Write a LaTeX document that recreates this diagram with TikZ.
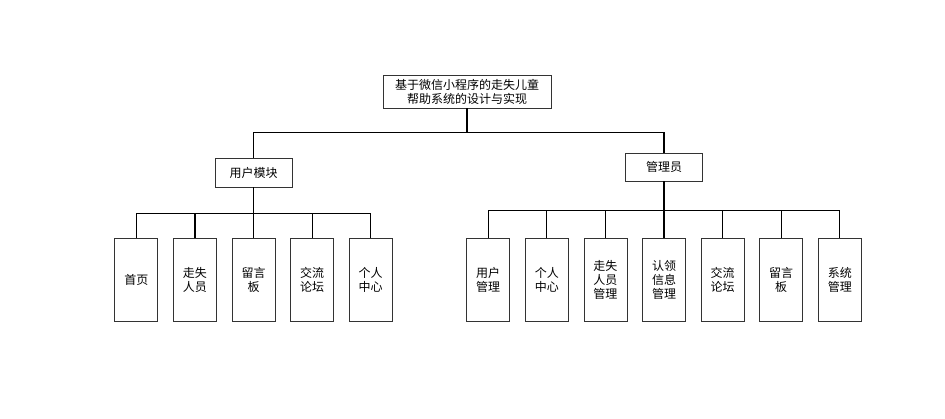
\documentclass[tikz,border=0pt]{standalone}
\usepackage{fontspec}
\newfontfamily\cjk{Noto Sans CJK SC}
\usepackage{tikz}

\newcommand\busdrop{26pt}
\tikzset{
	bus drop/.store in=\busdrop,
	box/.style={draw=black!80, line width=0.8pt, align=center, inner sep=2pt},
	titlebox/.style={box, minimum width=168pt, minimum height=33pt},
	modbox/.style={box, minimum width=77pt, minimum height=29pt},
	leafbox/.style={box, minimum width=43pt, minimum height=83pt}
}

\begin{document}
\begin{tikzpicture}[x=1pt,y=1pt,
nodes={font=\cjk\fontsize{12pt}{14pt}\selectfont},
edge from parent/.style={draw,black,line width=1.2pt},
level 1/.style={level distance=81pt,sibling distance=410.5pt,
	edge from parent path={(\tikzparentnode.south) -- ++(0pt,-24pt) -| (\tikzchildnode.north)}},
level 2/.style={level distance=107.5pt,sibling distance=58.6pt,
	edge from parent path={(\tikzparentnode.south) -- ++(0pt,-\busdrop) -| (\tikzchildnode.north)}}]

\useasboundingbox (0,0) rectangle (945,-418);

% Nodes
\node[titlebox] (sys) at (467,-91.5) {基于微信小程序的走失儿童\\帮助系统的设计与实现}
	child[bus drop=26pt]{node[modbox,xshift=-8.25pt] (user) {用户模块} % User side
		child{node[leafbox] (u1) {首页}}
		child{node[leafbox] (u2) {走失\\人员}}
		child{node[leafbox] (u3) {留言\\板}}
		child{node[leafbox] (u4) {交流\\论坛}}
		child{node[leafbox] (u5) {个人\\中心}}
	}
	child[bus drop=29pt,level 2/.append style={level distance=113pt}]{node[modbox,xshift=-8.25pt,yshift=5.5pt,minimum height=28pt] (admin) {管理员} % Admin side
		child{node[leafbox] (a1) {用户\\管理}}
		child{node[leafbox] (a2) {个人\\中心}}
		child{node[leafbox] (a3) {走失\\人员\\管理}}
		child{node[leafbox] (a4) {认领\\信息\\管理}}
		child{node[leafbox] (a5) {交流\\论坛}}
		child{node[leafbox] (a6) {留言\\板}}
		child{node[leafbox] (a7) {系统\\管理}}
	};

\end{tikzpicture}
\end{document}
